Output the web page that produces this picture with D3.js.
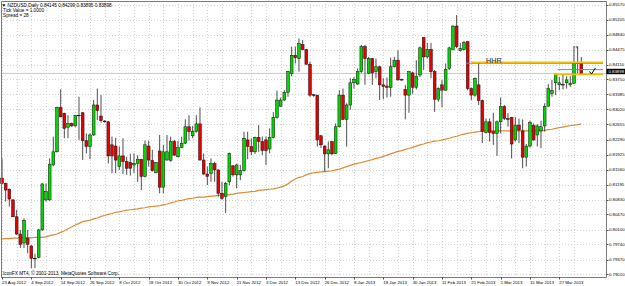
<!DOCTYPE html>
<html>
<head>
<meta charset="utf-8">
<script src="https://cdn.jsdelivr.net/npm/d3@7/dist/d3.min.js"></script>
<style>
  body { margin: 0; background: #fff; }
  svg { display: block; }
  text { font-family: 'Liberation Sans', Arial, sans-serif; }
</style>
</head>
<body>
<div id="chart"></div>
<script>
// NZDUSD daily, one value per bar (bar 0 = 23 Aug 2012)
const opens = [
  0.8135, 0.8122, 0.8108, 0.8082, 0.8041, 0.7999, 0.7977, 0.7989, 0.7970, 0.7940,
  0.7942, 0.8009, 0.8082, 0.8082, 0.8167, 0.8199, 0.8307, 0.8293, 0.8259, 0.8268,
  0.8262, 0.8288, 0.8294, 0.8226, 0.8212, 0.8240, 0.8313, 0.8286, 0.8274, 0.8272,
  0.8216, 0.8213, 0.8163, 0.8189, 0.8175, 0.8173, 0.8167, 0.8171, 0.8181, 0.8139,
  0.8213, 0.8178, 0.8148, 0.8201, 0.8113, 0.8179, 0.8178, 0.8224, 0.8187, 0.8210,
  0.8220, 0.8260, 0.8238, 0.8248, 0.8267, 0.8179, 0.8145, 0.8147, 0.8170, 0.8155,
  0.8098, 0.8090, 0.8126, 0.8165, 0.8143, 0.8143, 0.8153, 0.8228, 0.8212, 0.8199,
  0.8234, 0.8224, 0.8228, 0.8206, 0.8234, 0.8283, 0.8310, 0.8325, 0.8344, 0.8390,
  0.8434, 0.8426, 0.8460, 0.8448, 0.8412, 0.8338, 0.8337, 0.8238, 0.8213, 0.8194,
  0.8224, 0.8195, 0.8260, 0.8337, 0.8278, 0.8313, 0.8367, 0.8364, 0.8394, 0.8455,
  0.8390, 0.8426, 0.8394, 0.8406, 0.8362, 0.8359, 0.8356, 0.8406, 0.8422, 0.8375,
  0.8351, 0.8337, 0.8391, 0.8356, 0.8386, 0.8477, 0.8430, 0.8448, 0.8394, 0.8327,
  0.8362, 0.8349, 0.8402, 0.8448, 0.8505, 0.8445, 0.8448, 0.8467, 0.8353, 0.8337,
  0.8362, 0.8324, 0.8246, 0.8272, 0.8248, 0.8244, 0.8272, 0.8309, 0.8280, 0.8283,
  0.8228, 0.8264, 0.8250, 0.8186, 0.8213, 0.8263, 0.8240, 0.8250, 0.8262, 0.8310,
  0.8341, 0.8367, 0.8362, 0.8363, 0.8367, 0.8362, 0.8366, 0.8414, 0.84145
];
const highs = [
  0.8183, 0.8124, 0.8110, 0.8084, 0.8058, 0.8009, 0.8037, 0.8009, 0.7972, 0.7951,
  0.8011, 0.8122, 0.8122, 0.8183, 0.8236, 0.8309, 0.8351, 0.8294, 0.8288, 0.8270,
  0.8289, 0.8333, 0.8296, 0.8244, 0.8244, 0.8325, 0.8353, 0.8337, 0.8276, 0.8274,
  0.8236, 0.8233, 0.8212, 0.8232, 0.8187, 0.8194, 0.8195, 0.8191, 0.8182, 0.8226,
  0.8226, 0.8204, 0.8174, 0.8240, 0.8216, 0.8240, 0.8236, 0.8228, 0.8225, 0.8236,
  0.8278, 0.8288, 0.8262, 0.8288, 0.8307, 0.8195, 0.8163, 0.8183, 0.8175, 0.8156,
  0.8126, 0.8126, 0.8197, 0.8167, 0.8170, 0.8167, 0.8248, 0.8248, 0.8232, 0.8236,
  0.8264, 0.8236, 0.8236, 0.8256, 0.8296, 0.8348, 0.8331, 0.8349, 0.8396, 0.8455,
  0.8455, 0.8475, 0.8471, 0.8449, 0.8418, 0.8340, 0.8337, 0.8240, 0.8215, 0.8224,
  0.8225, 0.8268, 0.8349, 0.8353, 0.8317, 0.8378, 0.8381, 0.8402, 0.8459, 0.8459,
  0.8430, 0.8427, 0.8426, 0.8408, 0.8378, 0.8380, 0.8428, 0.8430, 0.8446, 0.8377,
  0.8362, 0.8395, 0.8394, 0.8422, 0.8455, 0.8478, 0.8464, 0.8464, 0.8398, 0.8356,
  0.8374, 0.8414, 0.8455, 0.8507, 0.8532, 0.8464, 0.8469, 0.8468, 0.8356, 0.8380,
  0.8416, 0.8326, 0.8280, 0.8280, 0.8294, 0.8275, 0.8331, 0.8313, 0.8293, 0.8284,
  0.8284, 0.8280, 0.8278, 0.8218, 0.8275, 0.8268, 0.8267, 0.8275, 0.8317, 0.8364,
  0.8374, 0.8390, 0.8381, 0.8386, 0.8383, 0.8383, 0.8451, 0.8454, 0.84299
];
const lows = [
  0.8121, 0.8078, 0.8066, 0.8040, 0.7997, 0.7965, 0.7965, 0.7952, 0.7916, 0.7916,
  0.7940, 0.8007, 0.8078, 0.8080, 0.8165, 0.8198, 0.8283, 0.8232, 0.8232, 0.8260,
  0.8260, 0.8228, 0.8179, 0.8195, 0.8181, 0.8238, 0.8276, 0.8270, 0.8270, 0.8171,
  0.8147, 0.8147, 0.8155, 0.8145, 0.8143, 0.8141, 0.8147, 0.8126, 0.8106, 0.8137,
  0.8163, 0.8151, 0.8147, 0.8098, 0.8098, 0.8178, 0.8175, 0.8189, 0.8186, 0.8208,
  0.8218, 0.8226, 0.8232, 0.8246, 0.8178, 0.8143, 0.8118, 0.8126, 0.8126, 0.8090,
  0.8082, 0.8050, 0.8118, 0.8139, 0.8110, 0.8130, 0.8151, 0.8181, 0.8191, 0.8194,
  0.8199, 0.8191, 0.8167, 0.8195, 0.8232, 0.8280, 0.8309, 0.8323, 0.8333, 0.8383,
  0.8414, 0.8394, 0.8446, 0.8411, 0.8333, 0.8333, 0.8212, 0.8208, 0.8151, 0.8159,
  0.8191, 0.8194, 0.8259, 0.8276, 0.8212, 0.8301, 0.8353, 0.8362, 0.8390, 0.8362,
  0.8388, 0.8362, 0.8378, 0.8325, 0.8327, 0.8331, 0.8333, 0.8404, 0.8372, 0.8372,
  0.8278, 0.8294, 0.8340, 0.8351, 0.8381, 0.8398, 0.8426, 0.8378, 0.8296, 0.8321,
  0.8307, 0.8348, 0.8398, 0.8446, 0.8451, 0.8443, 0.8446, 0.8349, 0.8325, 0.8333,
  0.8313, 0.8220, 0.8244, 0.8224, 0.8216, 0.8189, 0.8244, 0.8276, 0.8260, 0.8183,
  0.8224, 0.8220, 0.8159, 0.8163, 0.8210, 0.8226, 0.8212, 0.8208, 0.8248, 0.8309,
  0.8333, 0.8337, 0.8349, 0.8351, 0.8353, 0.8357, 0.8364, 0.8390, 0.83895
];
const closes = [
  0.8122, 0.8106, 0.8084, 0.8041, 0.7999, 0.7973, 0.8032, 0.7974, 0.7940, 0.7939,
  0.8009, 0.8121, 0.8102, 0.8169, 0.8199, 0.8307, 0.8284, 0.8256, 0.8268, 0.8262,
  0.8288, 0.8287, 0.8226, 0.8212, 0.8240, 0.8313, 0.8299, 0.8275, 0.8272, 0.8189,
  0.8189, 0.8179, 0.8189, 0.8175, 0.8159, 0.8159, 0.8171, 0.8181, 0.8139, 0.8216,
  0.8179, 0.8153, 0.8173, 0.8113, 0.8199, 0.8199, 0.8224, 0.8191, 0.8209, 0.8220,
  0.8260, 0.8248, 0.8248, 0.8267, 0.8179, 0.8145, 0.8139, 0.8171, 0.8155, 0.8098,
  0.8086, 0.8122, 0.8195, 0.8143, 0.8167, 0.8153, 0.8232, 0.8212, 0.8199, 0.8234,
  0.8224, 0.8202, 0.8202, 0.8234, 0.8283, 0.8325, 0.8325, 0.8344, 0.8394, 0.8434,
  0.8428, 0.8463, 0.8448, 0.8412, 0.8337, 0.8336, 0.8228, 0.8216, 0.8194, 0.8204,
  0.8194, 0.8260, 0.8337, 0.8278, 0.8313, 0.8367, 0.8375, 0.8394, 0.8455, 0.8426,
  0.8426, 0.8391, 0.8406, 0.8362, 0.8358, 0.8356, 0.8406, 0.8422, 0.8374, 0.8374,
  0.8337, 0.8394, 0.8356, 0.8383, 0.8452, 0.8430, 0.8448, 0.8394, 0.8327, 0.8353,
  0.8349, 0.8400, 0.8452, 0.8505, 0.8455, 0.8451, 0.8465, 0.8353, 0.8337, 0.8378,
  0.8324, 0.8248, 0.8272, 0.8246, 0.8244, 0.8272, 0.8309, 0.8280, 0.8278, 0.8218,
  0.8264, 0.8252, 0.8186, 0.8213, 0.8270, 0.8228, 0.8262, 0.8260, 0.8310, 0.8353,
  0.8348, 0.8386, 0.8367, 0.8362, 0.8374, 0.8366, 0.8414, 0.8415, 0.83898
];
// moving average, one value per bar
const maValues = [
  0.7987, 0.7988, 0.7988, 0.7989, 0.7989, 0.7990, 0.7990, 0.7990, 0.7990, 0.7991,
  0.7991, 0.7991, 0.7992, 0.7995, 0.7997, 0.7999, 0.8003, 0.8007, 0.8012, 0.8016,
  0.8021, 0.8025, 0.8029, 0.8031, 0.8033, 0.8036, 0.8038, 0.8042, 0.8044, 0.8047,
  0.8049, 0.8052, 0.8053, 0.8055, 0.8057, 0.8058, 0.8059, 0.8060, 0.8062, 0.8063,
  0.8065, 0.8066, 0.8067, 0.8068, 0.8070, 0.8072, 0.8075, 0.8077, 0.8080, 0.8081,
  0.8083, 0.8085, 0.8086, 0.8088, 0.8089, 0.8089, 0.8090, 0.8091, 0.8092, 0.8093,
  0.8094, 0.8094, 0.8095, 0.8096, 0.8098, 0.8099, 0.8100, 0.8101, 0.8102, 0.8103,
  0.8105, 0.8106, 0.8107, 0.8108, 0.8109, 0.8111, 0.8113, 0.8116, 0.8121, 0.8128,
  0.8133, 0.8137, 0.8139, 0.8143, 0.8146, 0.8148, 0.8149, 0.8150, 0.8151, 0.8152,
  0.8153, 0.8155, 0.8157, 0.8160, 0.8163, 0.8166, 0.8169, 0.8171, 0.8173, 0.8175,
  0.8178, 0.8180, 0.8183, 0.8185, 0.8188, 0.8191, 0.8194, 0.8197, 0.8200, 0.8202,
  0.8205, 0.8207, 0.8210, 0.8213, 0.8216, 0.8218, 0.8221, 0.8223, 0.8225, 0.8226,
  0.8228, 0.8230, 0.8232, 0.8235, 0.8237, 0.8240, 0.8242, 0.8244, 0.8246, 0.8247,
  0.8248, 0.8250, 0.8250, 0.8250, 0.8250, 0.8250, 0.8250, 0.8250, 0.8250, 0.8250,
  0.8250, 0.8250, 0.8250, 0.8250, 0.8250, 0.8250, 0.8250, 0.8250, 0.8251, 0.8253,
  0.8254, 0.8256, 0.8258, 0.8259, 0.8261, 0.8263, 0.8264, 0.8265, 0.8267
];

const dateLabels = [
  '23 Aug 2012', '4 Sep 2012', '14 Sep 2012', '26 Sep 2012', '8 Oct 2012',
  '18 Oct 2012', '30 Oct 2012', '9 Nov 2012', '21 Nov 2012', '3 Dec 2012',
  '13 Dec 2012', '26 Dec 2012', '8 Jan 2013', '18 Jan 2013', '30 Jan 2013',
  '11 Feb 2013', '21 Feb 2013', '5 Mar 2013', '15 Mar 2013', '27 Mar 2013'
];
const dateLabelBars = [0, 8, 16, 24, 32, 40, 48, 56, 64, 72, 80, 88, 96, 104, 112, 120, 128, 136, 144, 152];
const priceLabels = [
  '0.85570', '0.85205', '0.84840', '0.84475', '0.84110', '0.83750', '0.83385',
  '0.83020', '0.82655', '0.82290', '0.81925', '0.81560', '0.81195', '0.80830',
  '0.80470', '0.80100', '0.79740', '0.79370', '0.79010'
];

// drawn levels
const levelLines = [
  { price: 0.84145, from: 126.5, color: '#1ea7e8', width: 1 },
  { price: 0.84170, from: 128, color: '#f2c200', width: 1.3 },
  { price: 0.83990, from: 151.5, color: '#1ea7e8', width: 1 },
  { price: 0.83875, from: 150.5, color: '#f2c200', width: 1.6 }
];
const header = ['\u25BC NZDUSD,Daily  0.84145 0.84299 0.83895 0.83898', 'Tick Value = 1.0000', 'Spread = 28'];
const lastPrice = 0.83898;

const width = 625;
const height = 286;
const plotLeft = 1;
const plotRight = 606;
const plotTop = 1;
const plotBottom = 277;
const axisFont = 4.3;
const textFont = 4.7;

const svg = d3.select('#chart').append('svg')
  .attr('width', width)
  .attr('height', height);

svg.append('rect').attr('width', width).attr('height', height).attr('fill', '#fff');

const xScale = d3.scaleLinear().domain([0, 158]).range([2, 581.3]);
const yScale = d3.scaleLinear().domain([0.7901, 0.8557]).range([274.3, 4.7]);

// grid
const grid = svg.append('g').attr('stroke', '#d2d2d2').attr('stroke-dasharray', '1,2');
grid.selectAll('line.h')
  .data(priceLabels)
  .enter()
  .append('line')
  .attr('x1', plotLeft)
  .attr('x2', plotRight)
  .attr('y1', (d) => Math.round(yScale(+d)) + 0.5)
  .attr('y2', (d) => Math.round(yScale(+d)) + 0.5);
grid.selectAll('line.v')
  .data(d3.range(0, 160, 4))
  .enter()
  .append('line')
  .attr('x1', (d) => Math.round(xScale(d)) + 0.5)
  .attr('x2', (d) => Math.round(xScale(d)) + 0.5)
  .attr('y1', plotTop)
  .attr('y2', plotBottom);

// bid line
svg.append('line')
  .attr('x1', plotLeft)
  .attr('x2', plotRight)
  .attr('y1', yScale(lastPrice))
  .attr('y2', yScale(lastPrice))
  .attr('stroke', '#c8c8c8')
  .attr('stroke-width', 1);

// moving average
const maLine = d3.line()
  .x((d, i) => xScale(i))
  .y((d) => yScale(d));
svg.append('path')
  .datum(maValues)
  .attr('d', maLine)
  .attr('fill', 'none')
  .attr('stroke', '#dd8a36')
  .attr('stroke-width', 1.2);

// candles
const bars = opens.map((o, i) => ({ i, o, h: highs[i], l: lows[i], c: closes[i] }));
const candles = svg.append('g').attr('id', 'candles');
candles.selectAll('line')
  .data(bars)
  .enter()
  .append('line')
  .attr('x1', (d) => xScale(d.i))
  .attr('x2', (d) => xScale(d.i))
  .attr('y1', (d) => yScale(d.h))
  .attr('y2', (d) => yScale(d.l))
  .attr('stroke', '#3a3a3a')
  .attr('stroke-width', 0.9);
candles.selectAll('rect')
  .data(bars)
  .enter()
  .append('rect')
  .attr('x', (d) => xScale(d.i) - 1.4)
  .attr('y', (d) => yScale(Math.max(d.o, d.c)))
  .attr('width', 2.8)
  .attr('height', (d) => Math.max(0.6, Math.abs(yScale(d.o) - yScale(d.c))))
  .attr('fill', (d) => (d.c >= d.o ? '#00d800' : '#e80000'))
  .attr('stroke', '#111')
  .attr('stroke-width', 0.5);

// horizontal levels
svg.selectAll('line.level')
  .data(levelLines)
  .enter()
  .append('line')
  .attr('x1', (d) => xScale(d.from))
  .attr('x2', 603)
  .attr('y1', (d) => yScale(d.price))
  .attr('y2', (d) => yScale(d.price))
  .attr('stroke', (d) => d.color)
  .attr('stroke-width', (d) => d.width);

svg.append('text')
  .text('HHR')
  .attr('x', 486)
  .attr('y', 62.5)
  .attr('font-size', 7.2)
  .attr('fill', '#222');

// check mark and swing marks
svg.append('path')
  .attr('d', 'M589.5,71.5 L591.5,74 L595.5,67.8')
  .attr('fill', 'none')
  .attr('stroke', '#000')
  .attr('stroke-width', 1);
svg.append('text')
  .text('\u00d7\u00d7')
  .attr('x', 572.5)
  .attr('y', 48.5)
  .attr('font-size', 5)
  .attr('fill', '#222');

// frame
svg.append('path')
  .attr('d', `M${plotLeft + 0.5},${plotBottom} V${plotTop + 0.5} H${plotRight + 0.5} V${plotBottom + 0.5} H${plotLeft}`)
  .attr('fill', 'none')
  .attr('stroke', '#7a7a7a')
  .attr('stroke-width', 1);

// price axis
const yAxis = svg.append('g').attr('font-size', axisFont).attr('fill', '#000');
yAxis.selectAll('text')
  .data(priceLabels)
  .enter()
  .append('text')
  .attr('x', 609)
  .attr('y', (d) => yScale(+d) + 1.5)
  .text((d) => d);
yAxis.selectAll('line')
  .data(priceLabels)
  .enter()
  .append('line')
  .attr('x1', 606)
  .attr('x2', 608.5)
  .attr('y1', (d) => Math.round(yScale(+d)) + 0.5)
  .attr('y2', (d) => Math.round(yScale(+d)) + 0.5)
  .attr('stroke', '#555');

svg.append('rect')
  .attr('x', 606.5)
  .attr('y', 68.8)
  .attr('width', 18.5)
  .attr('height', 5.4)
  .attr('fill', '#000');
svg.append('text')
  .text(d3.format('.5f')(lastPrice))
  .attr('x', 608.5)
  .attr('y', 73.1)
  .attr('font-size', axisFont)
  .attr('fill', '#fff');

// time axis
const xAxis = svg.append('g').attr('font-size', axisFont).attr('fill', '#000');
xAxis.selectAll('text')
  .data(dateLabels)
  .enter()
  .append('text')
  .attr('x', (d, i) => xScale(dateLabelBars[i]))
  .attr('y', 283.5)
  .text((d) => d);
xAxis.selectAll('line')
  .data(dateLabelBars)
  .enter()
  .append('line')
  .attr('x1', (d) => Math.round(xScale(d)) + 0.5)
  .attr('x2', (d) => Math.round(xScale(d)) + 0.5)
  .attr('y1', plotBottom)
  .attr('y2', plotBottom + 2.5)
  .attr('stroke', '#555');

// header and watermark
svg.append('g')
  .attr('font-size', textFont)
  .attr('fill', '#000')
  .selectAll('text')
  .data(header)
  .enter()
  .append('text')
  .attr('x', (d, i) => (i === 0 ? 1.5 : 3))
  .attr('y', (d, i) => 6.6 + i * 5.3)
  .text((d) => d);

svg.append('text')
  .text('IconFX MT4, \u00a9 2001-2013, MetaQuotes Software Corp.')
  .attr('x', 3)
  .attr('y', 275)
  .attr('font-size', textFont)
  .attr('fill', '#000');
</script>
</body>
</html>
